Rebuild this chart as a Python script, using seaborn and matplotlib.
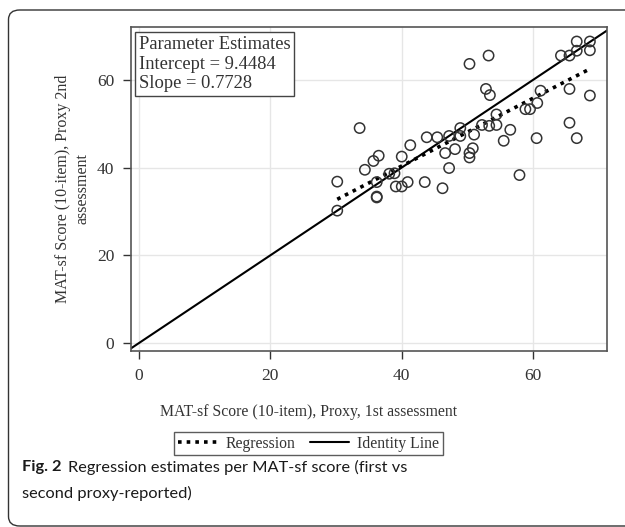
import numpy as np
import pandas as pd
import matplotlib
matplotlib.use("Agg")
import matplotlib.pyplot as plt
import seaborn as sns
from matplotlib.patches import FancyBboxPatch
from matplotlib.lines import Line2D

# Data
proxy_1st = [30.2, 30.2, 33.6, 34.4, 35.7, 36.5, 36.2, 36.2, 36.2, 38.1,
             38.9, 39.1, 40.0, 40.0, 40.9, 41.3, 43.5, 43.8, 45.4, 46.2,
             46.6, 47.2, 47.2, 48.1, 48.9, 48.9, 50.3, 50.3, 50.3, 50.8,
             51.0, 52.2, 52.8, 53.4, 53.2, 53.3, 54.4, 54.4, 55.5, 56.5,
             57.9, 58.8, 59.5, 60.5, 60.6, 61.1, 64.2, 65.5, 65.5, 65.5,
             66.6, 66.6, 66.6, 68.6, 68.6, 68.6]
proxy_2nd = [36.8, 30.2, 49.0, 39.5, 41.5, 42.7, 36.7, 33.4, 33.2, 38.6,
             38.7, 35.7, 35.7, 42.5, 36.7, 45.1, 36.7, 46.9, 46.9, 35.3,
             43.3, 39.9, 47.2, 44.2, 47.2, 49.0, 63.6, 43.3, 42.3, 44.4,
             47.5, 49.7, 57.9, 56.5, 65.5, 49.5, 49.7, 52.1, 46.1, 48.6,
             38.3, 53.3, 53.3, 46.7, 54.7, 57.5, 65.5, 65.5, 57.9, 50.2,
             46.7, 66.6, 68.7, 68.7, 66.7, 56.4]

intercept = 9.4484
slope = 0.7728
ticks = [0, 20, 40, 60]

df = pd.DataFrame({"first": proxy_1st, "second": proxy_2nd})

sns.set_style("white")
plt.rcParams['font.family'] = ['Liberation Serif', 'DejaVu Serif']

fig = plt.figure(figsize=(6.25, 5.27), dpi=100)
ax = fig.add_axes([131 / 625, 1 - 351 / 527, (607 - 131) / 625, (351 - 27) / 527])

xlim = (-1.15, 71.2)
ylim = (-1.75, 72.0)

# grid
for t in ticks:
    ax.axvline(t, color='#e6e6e6', lw=1.0, zorder=0)
    ax.axhline(t, color='#e6e6e6', lw=1.0, zorder=0)

# identity line
ident = pd.DataFrame({"x": [xlim[0], xlim[1]], "y": [xlim[0], xlim[1]]})
sns.lineplot(data=ident, x="x", y="y", ax=ax, color='black', lw=1.5, zorder=2)

# regression line
xr = np.array([min(proxy_1st), max(proxy_1st)])
reg = pd.DataFrame({"x": xr, "y": intercept + slope * xr})
sns.lineplot(data=reg, x="x", y="y", ax=ax, color='black', lw=2.6,
             dashes=False, zorder=3)
ax.lines[-1].set_dashes((1.0, 1.4))

# points
sns.scatterplot(data=df, x="first", y="second", ax=ax, marker='o',
                s=55, facecolor='none', edgecolor='#333333', linewidth=1.1,
                zorder=4)

ax.set_xlim(*xlim)
ax.set_ylim(*ylim)
ax.set_xticks(ticks)
ax.set_yticks(ticks)
ax.tick_params(axis='both', direction='out', length=6, width=1.0,
               colors='#333333', labelsize=12.5, labelcolor='#333333',
               bottom=True, left=True, pad=6)
for sp in ax.spines.values():
    sp.set_color('#555555')
    sp.set_linewidth(1.2)
ax.set_xlabel("")
ax.set_ylabel("")

# axis labels
fig.text(309 / 625, 1 - 412 / 527, "MAT-sf Score (10-item), Proxy, 1st assessment",
         ha='center', va='center', fontsize=11.3, color='#333333')
fig.text(73 / 625, 1 - 189 / 527, "MAT-sf Score (10-item), Proxy 2nd\nassessment",
         ha='center', va='center', rotation=90, fontsize=11.5, color='#333333',
         linespacing=1.3)

# parameter box
ax.text(8 / 476, 1 - 9 / 324, "Parameter Estimates\nIntercept = 9.4484\nSlope = 0.7728",
        transform=ax.transAxes, ha='left', va='top', fontsize=13.3,
        color='#333333', linespacing=1.2,
        bbox=dict(boxstyle='square,pad=0.2', facecolor='white',
                  edgecolor='#444444', linewidth=1.0))

# legend
handles = [Line2D([], [], color='black', lw=2.6, dashes=(1.0, 1.4)),
           Line2D([], [], color='black', lw=1.5)]
leg = fig.legend(handles, ["Regression", "Identity Line"], loc='center',
                 bbox_to_anchor=(308.5 / 625, 1 - 443.5 / 527), ncol=2,
                 frameon=True, fancybox=False, fontsize=11.3,
                 handlelength=2.5, handletextpad=0.5, columnspacing=0.9,
                 borderpad=0.25, borderaxespad=0)
leg.get_frame().set_edgecolor('#333333')
leg.get_frame().set_linewidth(1.0)
for t in leg.get_texts():
    t.set_color('#333333')

# caption
cap_font = ['Lato', 'DejaVu Sans']
cap_size = 11.8
fig_lbl = fig.text(22 / 625, 1 - 467 / 527, "Fig. 2", ha='left', va='center',
                   fontsize=cap_size, fontweight='bold', family=cap_font, color='#1a1a1a')
fig.canvas.draw()
lbl_end = fig_lbl.get_window_extent().x1
fig.text((lbl_end + 6) / 625, 1 - 467 / 527,
         "Regression estimates per MAT-sf score (first vs",
         ha='left', va='center', fontsize=cap_size, family=cap_font, color='#1a1a1a')
fig.text(22 / 625, 1 - 493 / 527, "second proxy-reported)", ha='left', va='center',
         fontsize=cap_size, family=cap_font, color='#1a1a1a')

# outer rounded border
border = FancyBboxPatch((8.5 / 625, 1.0 / 527), 640 / 625, (517 - 1.0) / 527,
                        boxstyle='round,pad=0,rounding_size=0.018',
                        transform=fig.transFigure, facecolor='none',
                        edgecolor='#333333', linewidth=1.0, clip_on=False)
fig.patches.append(border)

fig.savefig("out.png", dpi=100)
